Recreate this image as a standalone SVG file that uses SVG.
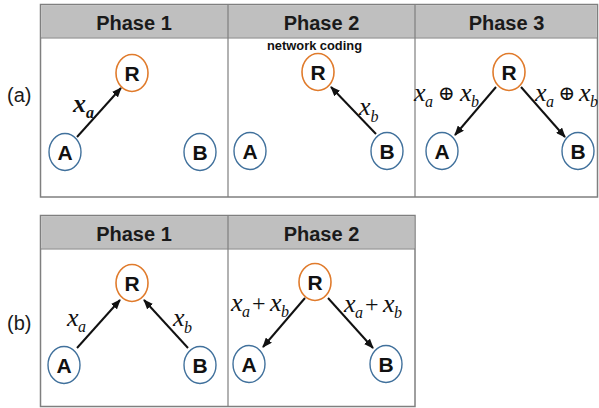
<svg xmlns="http://www.w3.org/2000/svg" width="599" height="408" viewBox="0 0 599 408">
<defs>
<style>
.hdr{fill:#bfbfbf;stroke:none}
.frame{fill:#fff;stroke:#7f7f7f;stroke-width:1.5}
.div{stroke:#7f7f7f;stroke-width:1.2}
.ht{font-family:"Liberation Sans",Arial,sans-serif;font-weight:bold;font-size:20px;fill:#1a1a1a;text-anchor:middle}
.lbl{font-family:"Liberation Sans",Arial,sans-serif;font-size:20px;fill:#1a1a1a}
.r{fill:#fff;stroke:#e07b2c;stroke-width:1.6}
.ab{fill:#fff;stroke:#41719c;stroke-width:1.4}
.nt{font-family:"Liberation Sans",Arial,sans-serif;font-weight:bold;font-size:21px;fill:#111;text-anchor:middle}
.edge{stroke:#111;stroke-width:2;fill:none;marker-end:url(#ah)}
.m{font-family:"Liberation Serif","Times New Roman",serif;font-style:italic;font-size:26px;fill:#111}
.s{font-size:16px}
.op{font-family:"DejaVu Serif","DejaVu Sans",serif;font-style:normal;font-size:20px}
.pl{font-style:normal;font-size:24px}
.nc{font-family:"Liberation Sans",Arial,sans-serif;font-weight:bold;font-size:12px;fill:#111}
</style>
<marker id="ah" markerUnits="userSpaceOnUse" markerWidth="10" markerHeight="8" refX="9" refY="4" orient="auto">
<path d="M0,0 L10,4 L0,8 Z" fill="#111"/>
</marker>
</defs>
<rect width="599" height="408" fill="#fff"/>
<g id="tables">
<rect class="frame" x="40.5" y="4.5" width="557" height="192.5"/>
<rect class="hdr" x="41.2" y="5.2" width="555.6" height="32.5"/>
<line class="div" x1="40.5" y1="38" x2="597.5" y2="38"/>
<line class="div" x1="228" y1="4.5" x2="228" y2="197"/>
<line class="div" x1="415" y1="4.5" x2="415" y2="197"/>
<text class="ht" x="134" y="30">Phase 1</text>
<text class="ht" x="321.5" y="30">Phase 2</text>
<text class="ht" x="506.5" y="30">Phase 3</text>
<rect class="frame" x="40.5" y="215.5" width="374.5" height="191"/>
<rect class="hdr" x="41.2" y="216.2" width="373.1" height="32.5"/>
<line class="div" x1="40.5" y1="249" x2="415" y2="249"/>
<line class="div" x1="228" y1="215.5" x2="228" y2="406.5"/>
<text class="ht" x="134" y="241">Phase 1</text>
<text class="ht" x="321.5" y="241">Phase 2</text>
<text class="lbl" x="7" y="102">(a)</text>
<text class="lbl" x="7" y="330">(b)</text>
<text class="nc" x="267" y="50" textLength="95" lengthAdjust="spacingAndGlyphs">network coding</text>
</g>
<g id="connectors">
<line class="edge" x1="77" y1="137" x2="121" y2="88"/>
<line class="edge" x1="376" y1="134" x2="331" y2="87"/>
<line class="edge" x1="496" y1="87" x2="455" y2="135"/>
<line class="edge" x1="521" y1="87" x2="565" y2="137"/>
<line class="edge" x1="77" y1="348" x2="120" y2="300"/>
<line class="edge" x1="188" y1="348" x2="144" y2="300"/>
<line class="edge" x1="305" y1="298" x2="263" y2="347"/>
<line class="edge" x1="328" y1="298" x2="373" y2="348"/>
</g>
<g id="edge-labels">
<text class="m" font-weight="bold"><tspan x="73" y="112">x</tspan><tspan class="s" x="86" y="118">a</tspan></text>
<text class="m"><tspan x="359" y="115">x</tspan><tspan class="s" x="370.5" y="122">b</tspan></text>
<text class="m"><tspan x="414" y="101">x</tspan><tspan class="s" x="425" y="107">a</tspan><tspan class="op" x="438" y="100">⊕</tspan><tspan x="460" y="101">x</tspan><tspan class="s" x="471" y="107">b</tspan></text>
<text class="m"><tspan x="535" y="101">x</tspan><tspan class="s" x="546" y="107">a</tspan><tspan class="op" x="558.5" y="100">⊕</tspan><tspan x="579" y="101">x</tspan><tspan class="s" x="590" y="107">b</tspan></text>
<text class="m"><tspan x="67" y="326">x</tspan><tspan class="s" x="78" y="332">a</tspan></text>
<text class="m"><tspan x="173" y="326">x</tspan><tspan class="s" x="184" y="333">b</tspan></text>
<text class="m"><tspan x="231" y="311">x</tspan><tspan class="s" x="242" y="317">a</tspan><tspan class="pl" x="252" y="311">+</tspan><tspan x="270" y="311">x</tspan><tspan class="s" x="281" y="317">b</tspan></text>
<text class="m"><tspan x="344" y="312">x</tspan><tspan class="s" x="355" y="318">a</tspan><tspan class="pl" x="365" y="312">+</tspan><tspan x="383" y="312">x</tspan><tspan class="s" x="394" y="318">b</tspan></text>
</g>
<g id="a1-R"><ellipse class="r" cx="132" cy="73" rx="16" ry="18.5"/><text class="nt" x="132" y="80.5">R</text></g>
<g id="a1-A"><ellipse class="ab" cx="65" cy="152" rx="16" ry="18.5"/><text class="nt" x="65" y="159.5">A</text></g>
<g id="a1-B"><ellipse class="ab" cx="200" cy="152" rx="16" ry="18.5"/><text class="nt" x="200" y="159.5">B</text></g>
<g id="a2-R"><ellipse class="r" cx="318" cy="72" rx="16" ry="18.5"/><text class="nt" x="318" y="79.5">R</text></g>
<g id="a2-A"><ellipse class="ab" cx="250" cy="151" rx="16" ry="18.5"/><text class="nt" x="250" y="158.5">A</text></g>
<g id="a2-B"><ellipse class="ab" cx="387" cy="151" rx="16" ry="18.5"/><text class="nt" x="387" y="158.5">B</text></g>
<g id="a3-R"><ellipse class="r" cx="509" cy="72" rx="16" ry="18.5"/><text class="nt" x="509" y="79.5">R</text></g>
<g id="a3-A"><ellipse class="ab" cx="442" cy="151" rx="16" ry="18.5"/><text class="nt" x="442" y="158.5">A</text></g>
<g id="a3-B"><ellipse class="ab" cx="578" cy="151" rx="16" ry="18.5"/><text class="nt" x="578" y="158.5">B</text></g>
<g id="b1-R"><ellipse class="r" cx="132" cy="283" rx="16" ry="18.5"/><text class="nt" x="132" y="290.5">R</text></g>
<g id="b1-A"><ellipse class="ab" cx="64" cy="365" rx="16" ry="18.5"/><text class="nt" x="64" y="372.5">A</text></g>
<g id="b1-B"><ellipse class="ab" cx="200" cy="365" rx="16" ry="18.5"/><text class="nt" x="200" y="372.5">B</text></g>
<g id="b2-R"><ellipse class="r" cx="315" cy="282" rx="16" ry="18.5"/><text class="nt" x="315" y="289.5">R</text></g>
<g id="b2-A"><ellipse class="ab" cx="249" cy="364" rx="16" ry="18.5"/><text class="nt" x="249" y="371.5">A</text></g>
<g id="b2-B"><ellipse class="ab" cx="386" cy="364" rx="16" ry="18.5"/><text class="nt" x="386" y="371.5">B</text></g>
</svg>
